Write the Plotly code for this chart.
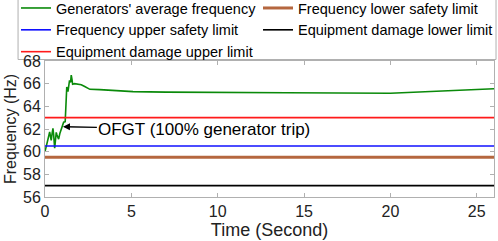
import plotly.graph_objects as go

# Generators' average frequency (time in seconds, frequency in Hz)
t = [0.0, 0.08, 0.15, 0.22, 0.27, 0.32, 0.36, 0.41, 0.46, 0.5, 0.56, 0.6, 0.65, 0.69,
     0.74, 0.79, 0.86, 0.94, 1.0, 1.08, 1.17, 1.2, 1.22, 1.26, 1.33, 1.38, 1.42, 1.48,
     1.52, 1.56, 1.6, 1.71, 1.9, 2.1, 2.3, 2.48, 2.6, 3.17, 4.0, 5.1, 7.0, 9.0, 11.8,
     14.0, 17.0, 20.0, 23.0, 26.0]
freq = [60.0, 60.6, 61.2, 61.4, 61.75, 61.3, 61.0, 61.6, 62.05, 61.5, 60.3, 60.9, 61.7, 61.5,
        61.3, 61.1, 61.6, 62.05, 62.3, 62.6, 62.65, 63.8, 64.6, 65.7, 65.3, 65.9, 66.3, 66.1,
        66.75, 66.4, 65.95, 66.0, 65.95, 65.9, 65.75, 65.6, 65.5, 65.47, 65.4, 65.3, 65.25,
        65.22, 65.2, 65.2, 65.18, 65.15, 65.35, 65.55]

x_range = [0, 26]
upper_damage = 63.0
upper_safety = 60.5
lower_safety = 59.5
lower_damage = 57.0

x_ticks = [0, 5, 10, 15, 20, 25]
y_ticks = [56, 58, 60, 62, 64, 66, 68]

FONT = "Liberation Sans"

fig = go.Figure()
fig.add_trace(go.Scatter(x=t, y=freq, mode="lines", name="Generators' average frequency",
                         line=dict(color="#0a8a0a", width=1.6), legend="legend"))
fig.add_trace(go.Scatter(x=x_range, y=[upper_safety] * 2, mode="lines",
                         name="Frequency upper safety limit",
                         line=dict(color="#1010ff", width=1.6), legend="legend"))
fig.add_trace(go.Scatter(x=x_range, y=[upper_damage] * 2, mode="lines",
                         name="Equipment damage upper limit",
                         line=dict(color="#ff1a1a", width=1.6), legend="legend"))
fig.add_trace(go.Scatter(x=x_range, y=[lower_safety] * 2, mode="lines",
                         name="Frequency lower safety limit",
                         line=dict(color="#b5673f", width=3), legend="legend2"))
fig.add_trace(go.Scatter(x=x_range, y=[lower_damage] * 2, mode="lines",
                         name="Equipment damage lower limit",
                         line=dict(color="black", width=1.6), legend="legend2"))

fig.add_annotation(x=1.04, y=62.2, xref="x", yref="y", ax=9.23, ay=61.95,
                   axref="x", ayref="y", text="OFGT (100% generator trip)",
                   showarrow=True, arrowhead=2, arrowsize=1, arrowwidth=1.4,
                   arrowcolor="black", font=dict(family=FONT, size=17, color="black"))

# legend frame
fig.add_shape(type="rect", xref="paper", yref="paper", x0=-0.06, x1=1.0045,
              y0=1.011, y1=1.456, line=dict(color="#b0b0b0", width=1),
              fillcolor="white", layer="below")

axis_common = dict(showline=True, linecolor="#b0b0b0", linewidth=1, mirror="ticks",
                   ticks="inside", ticklen=4, tickcolor="#b0b0b0", showgrid=False,
                   zeroline=False, tickfont=dict(family=FONT, size=16, color="#222"))

fig.update_xaxes(range=x_range, tickvals=x_ticks, **axis_common,
                 title=dict(text="Time (Second)", font=dict(family=FONT, size=18, color="#222"),
                            standoff=0))
fig.update_yaxes(range=[56, 68], tickvals=y_ticks, **axis_common,
                 title=dict(text="Frequency (Hz)", font=dict(family=FONT, size=16, color="#222"),
                            standoff=2))

legend_common = dict(orientation="v", xanchor="left", yanchor="top", itemwidth=30,
                     bgcolor="rgba(0,0,0,0)", borderwidth=0,
                     font=dict(family=FONT, size=14.5, color="black"), tracegroupgap=0)

fig.update_layout(
    width=498, height=241,
    margin=dict(l=45, r=4, t=61, b=44, autoexpand=False),
    plot_bgcolor="white", paper_bgcolor="white",
    legend=dict(x=-0.0646, y=1.507, **legend_common),
    legend2=dict(x=0.4744, y=1.507, **legend_common),
)

fig.write_html("out.html", config={"displayModeBar": False},
               post_script="document.body.style.margin='0';")
